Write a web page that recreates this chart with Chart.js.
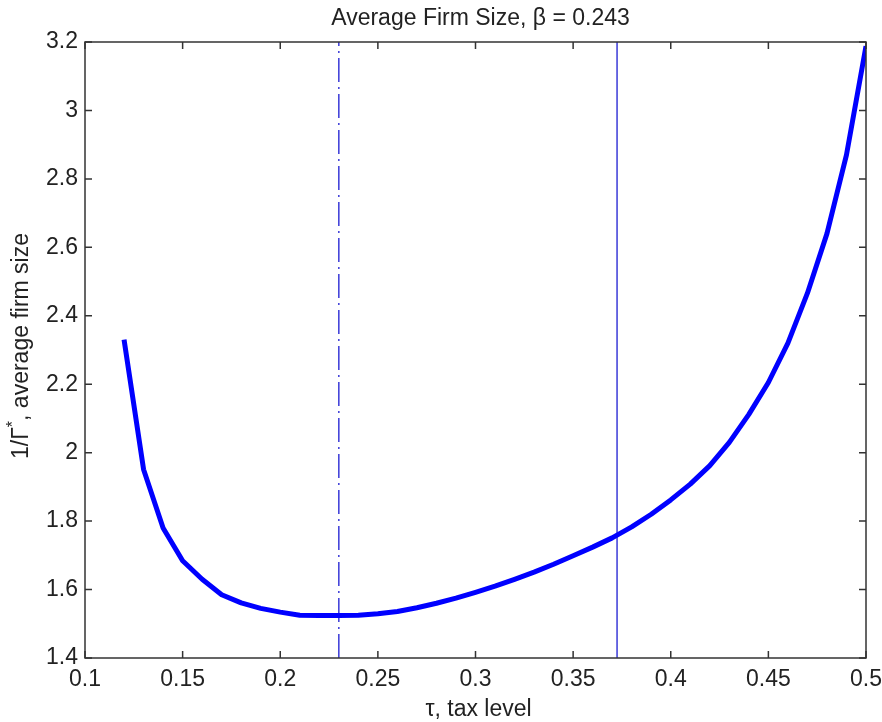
<!DOCTYPE html>
<html>
<head>
<meta charset="utf-8">
<script src="https://cdn.jsdelivr.net/npm/chart.js@4.4.1/dist/chart.umd.min.js"></script>
<style>
  html, body { margin: 0; padding: 0; background: #fff; }
  #wrap { width: 882px; height: 722px; }
</style>
</head>
<body>
<div id="wrap"><canvas id="firmChart" width="882" height="722"></canvas></div>
<script>
// data
const taxLevels = [0.12, 0.13, 0.14, 0.15, 0.16, 0.17, 0.18, 0.19, 0.20, 0.21,
                   0.22, 0.23, 0.24, 0.25, 0.26, 0.27, 0.28, 0.29, 0.30, 0.31,
                   0.32, 0.33, 0.34, 0.35, 0.36, 0.37, 0.38, 0.39, 0.40, 0.41,
                   0.42, 0.43, 0.44, 0.45, 0.46, 0.47, 0.48, 0.49, 0.50];
const firmSize = [2.330, 1.951, 1.780, 1.684, 1.630, 1.585, 1.561, 1.545, 1.534, 1.525,
                  1.524, 1.524, 1.525, 1.529, 1.536, 1.547, 1.560, 1.575, 1.592, 1.610,
                  1.630, 1.651, 1.674, 1.699, 1.724, 1.751, 1.783, 1.820, 1.862, 1.908,
                  1.962, 2.030, 2.112, 2.205, 2.320, 2.466, 2.640, 2.870, 3.188];
const dashDotTau = 0.23;    // dash-dot marker
const solidTau = 0.3725;    // solid marker
const xTicks = [0.1, 0.15, 0.2, 0.25, 0.3, 0.35, 0.4, 0.45, 0.5];
const yTicks = [1.4, 1.6, 1.8, 2, 2.2, 2.4, 2.6, 2.8, 3, 3.2];

const FONT = '"Liberation Sans", Arial, sans-serif';
const TEXT = '#222';
const AXIS = '#333';
const FS = 23;

// box, inward ticks and titles (matlab look)
const matlabFrame = {
    id: 'matlabFrame',
    afterDraw(chart) {
        const ctx = chart.ctx;
        const a = chart.chartArea;
        const xs = chart.scales.x, ys = chart.scales.y;
        ctx.save();
        ctx.strokeStyle = AXIS;
        ctx.lineWidth = 1.5;
        ctx.strokeRect(a.left, a.top, a.right - a.left, a.bottom - a.top);
        ctx.beginPath();
        xTicks.forEach(v => {
            const px = xs.getPixelForValue(v);
            ctx.moveTo(px, a.bottom); ctx.lineTo(px, a.bottom - 7);
            ctx.moveTo(px, a.top); ctx.lineTo(px, a.top + 7);
        });
        yTicks.forEach(v => {
            const py = ys.getPixelForValue(v);
            ctx.moveTo(a.left, py); ctx.lineTo(a.left + 7, py);
            ctx.moveTo(a.right, py); ctx.lineTo(a.right - 7, py);
        });
        ctx.stroke();

        ctx.fillStyle = TEXT;
        ctx.font = FS + 'px ' + FONT;
        ctx.textAlign = 'center';
        ctx.textBaseline = 'alphabetic';
        const cx = (a.left + a.right) / 2;
        ctx.fillText('Average Firm Size, \u03B2 = 0.243', cx + 5, 25);
        ctx.fillText('\u03C4, tax level', cx + 3, 716);

        // y title with superscript star
        const cy = (a.top + a.bottom) / 2 - 4;
        ctx.translate(28, cy);
        ctx.rotate(-Math.PI / 2);
        const p1 = '1/\u0393', p3 = ', average firm size';
        const w1 = ctx.measureText(p1).width;
        const w3 = ctx.measureText(p3).width;
        ctx.font = '16px ' + FONT;
        const w2 = ctx.measureText('*').width;
        const x0 = -(w1 + w2 + w3) / 2;
        ctx.textAlign = 'left';
        ctx.font = FS + 'px ' + FONT;
        ctx.fillText(p1, x0, 0);
        ctx.font = '16px ' + FONT;
        ctx.fillText('*', x0 + w1, -10);
        ctx.font = FS + 'px ' + FONT;
        ctx.fillText(p3, x0 + w1 + w2, 0);
        ctx.restore();
    }
};

function vLine(tau) {
    return [{ x: tau, y: yTicks[0] }, { x: tau, y: yTicks[yTicks.length - 1] }];
}

document.addEventListener('DOMContentLoaded', () => {
    const ctx = document.getElementById('firmChart').getContext('2d');
    new Chart(ctx, {
        type: 'line',
        data: {
            datasets: [{
                data: taxLevels.map((t, i) => ({ x: t, y: firmSize[i] })),
                borderColor: '#0000ff',
                borderWidth: 5,
                pointRadius: 0,
                tension: 0,
                borderJoinStyle: 'round',
                borderCapStyle: 'butt',
                order: 0
            }, {
                data: vLine(dashDotTau),
                borderColor: '#3a3ad8',
                borderWidth: 1.5,
                borderDash: [24, 5, 2, 5],
                pointRadius: 0,
                order: 1
            }, {
                data: vLine(solidTau),
                borderColor: '#3a3ad8',
                borderWidth: 1.5,
                pointRadius: 0,
                order: 1
            }]
        },
        options: {
            responsive: false,
            animation: false,
            layout: { padding: { top: 42, right: 16, left: 0, bottom: 0 } },
            plugins: {
                legend: { display: false },
                tooltip: { enabled: false },
                title: { display: false }
            },
            scales: {
                x: {
                    type: 'linear',
                    min: 0.1,
                    max: 0.5,
                    afterBuildTicks: s => { s.ticks = xTicks.map(v => ({ value: v })); },
                    afterFit: s => { s.height = 64; s.paddingLeft = 0; s.paddingRight = 0; },
                    grid: { display: false, drawTicks: false },
                    border: { display: false },
                    ticks: {
                        color: TEXT,
                        padding: 8,
                        maxRotation: 0,
                        font: { family: FONT, size: FS },
                        callback: v => String(v)
                    }
                },
                y: {
                    type: 'linear',
                    min: 1.4,
                    max: 3.2,
                    afterBuildTicks: s => { s.ticks = yTicks.map(v => ({ value: v })); },
                    afterFit: s => { s.width = 85; s.paddingTop = 0; s.paddingBottom = 0; },
                    grid: { display: false, drawTicks: false },
                    border: { display: false },
                    ticks: {
                        color: TEXT,
                        padding: 7,
                        font: { family: FONT, size: FS },
                        callback: v => String(v)
                    }
                }
            }
        },
        plugins: [matlabFrame]
    });
});
</script>
</body>
</html>
